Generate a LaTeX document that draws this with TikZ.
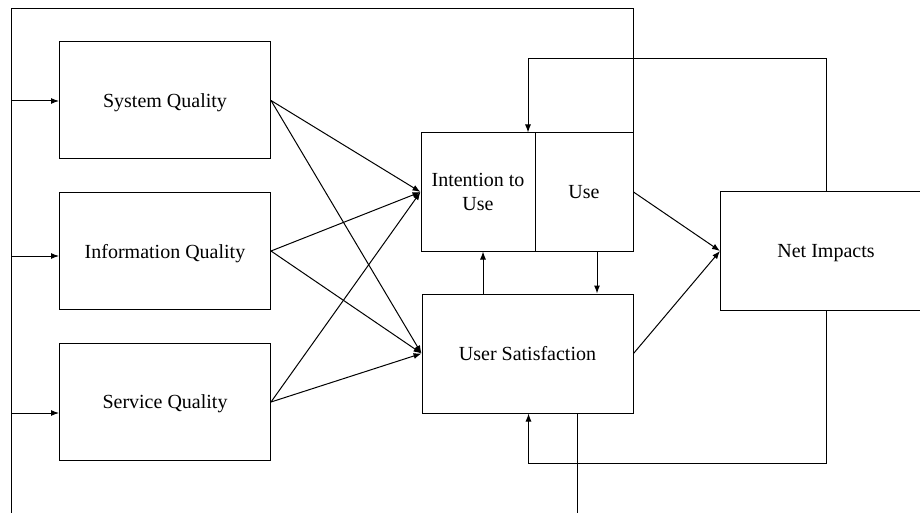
\documentclass[tikz,border=0pt]{standalone}
\usepackage{fontspec}
\setmainfont{Liberation Serif}
\usetikzlibrary{arrows.meta}
\tikzset{
  blk/.style={draw, line width=0.5pt, minimum width=105.5pt, minimum height=58.5pt, inner sep=2pt, align=center, text depth=0pt},
}
\begin{document}
\begin{tikzpicture}[y=-0.5pt, x=0.5pt, line width=0.5pt, >={Latex[length=4pt,width=3pt]}]
\fontsize{10}{12}\selectfont
\useasboundingbox (0,0) rectangle (920,513);
\fill[white] (0,0) rectangle (920,513);
\node[blk] (sysq) at (165,100.5) {System Quality};
\node[blk] (infq) at (165,251) {Information Quality};
\node[blk] (servq) at (165,402) {Service Quality};
\node[blk, minimum width=57pt, minimum height=59pt] (int) at (478,192) {Intention to\\Use};
\node[blk, minimum width=49pt, minimum height=59pt] (use) at (584,192) {Use};
\node[blk, minimum height=59.5pt] (usat) at (527.5,353.5) {User Satisfaction};
\node[blk, minimum height=59pt] (net) at (826,251) {Net Impacts};
% outer frame
\coordinate (tl) at (11,9);
\coordinate (bl) at (11,520);
\draw (bl) -- (tl) -| (use.north east);
\coordinate (in1) at (11,101);
\coordinate (in2) at (11,256);
\coordinate (in3) at (11,413);
\draw[->] (in1) -- (in1 -| sysq.west);
\draw[->] (in2) -- (in2 -| infq.west);
\draw[->] (in3) -- (in3 -| servq.west);
% quality -> use / satisfaction
\draw[->] (sysq.east) -- (int.west);
\draw[->] (sysq.east) -- (usat.west);
\draw[->] (infq.east) -- (int.west);
\draw[->] (infq.east) -- (usat.west);
\draw[->] (servq.east) -- (int.west);
\draw[->] (servq.east) -- (usat.west);
\draw[->] (use.east) -- (net.west);
\draw[->] (usat.east) -- (net.west);
\coordinate (a1) at ([xshift=2.5pt]int.south);
\coordinate (a2) at ([xshift=6.5pt]use.south);
\draw[->] (a1 |- usat.north) -- (a1);
\draw[->] (a2) -- (a2 |- usat.north);
% feedback
\coordinate (fb1) at ([xshift=25pt]int.north);
\coordinate (fb2) at ([xshift=0.5pt]usat.south);
\draw[->] (net.north) -- ++(0,-133) -| (fb1);
\draw[->] (net.south) -- ++(0,153) -| (fb2);
\coordinate (out) at ([xshift=25pt]usat.south);
\draw (out) -- ++(0,110);
\end{tikzpicture}
\end{document}
